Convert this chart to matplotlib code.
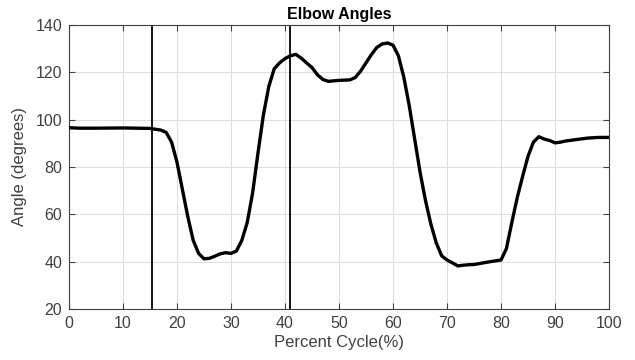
import matplotlib
matplotlib.use("Agg")
import matplotlib.pyplot as plt

percent = [0, 2, 5, 10, 15, 17, 18, 19, 20, 21, 22, 23, 24, 25, 26, 27, 28, 29, 30, 31, 32, 33, 34, 35, 36, 37, 38,
           39, 40, 41, 42, 43, 44, 45, 46, 47, 48, 50, 52, 53, 54, 55, 56, 57, 58, 59, 60, 61, 62, 63, 64, 65, 66,
           67, 68, 69, 70, 71, 72, 73, 74, 75, 76, 78, 80, 81, 82, 83, 84, 85, 86, 87, 88, 89, 90, 91, 92, 94, 96, 98, 100]
angle = [96.6, 96.4, 96.4, 96.5, 96.3, 95.6, 94.6, 90.5, 82.0, 70.5, 59.0, 49.0, 43.5, 41.2, 41.4, 42.3, 43.3, 43.8, 43.5, 44.5, 49.0, 56.5, 69.0, 86.0, 102.0, 114.0, 121.5,
         124.0, 125.8, 127.0, 127.6, 126.0, 124.0, 122.0, 119.0, 117.0, 116.2, 116.6, 116.8, 117.8, 120.5, 124.0, 127.5, 130.5, 132.0, 132.4, 131.5, 127.0, 118.0, 106.0, 92.0, 78.0, 66.0,
         56.0, 48.0, 42.5, 40.7, 39.5, 38.2, 38.5, 38.7, 38.8, 39.2, 40.0, 40.7, 45.5, 56.5, 67.0, 76.0, 84.5, 90.5, 92.8, 91.8, 91.2, 90.2, 90.5, 91.0, 91.6, 92.2, 92.5, 92.5]
markers_x = [15.3, 40.9]

plt.rcParams['font.family'] = ['Liberation Sans', 'DejaVu Sans']
fig = plt.figure(figsize=(6.35, 3.6), dpi=100)
ax = fig.add_axes([69/635, 1 - 309/360, 540/635, 284/360])

ax.plot(percent, angle, color='black', linewidth=2.4, solid_capstyle='round', solid_joinstyle='round', zorder=3)
for mx in markers_x:
    ax.plot([mx, mx], [20, 139], color='black', linewidth=1.3, zorder=2)

ax.set_xlim(0, 100)
ax.set_ylim(20, 140)
ax.set_xticks(range(0, 101, 10))
ax.set_yticks(range(20, 141, 20))
ax.grid(True, color='#dcdcdc', linewidth=0.7)
ax.set_axisbelow(True)
ax.tick_params(direction='in', top=True, right=True, length=4, width=0.8, colors='#404040',
               labelsize=11.5, labelcolor='#404040', pad=5)
for s in ax.spines.values():
    s.set_color('#404040')
    s.set_linewidth(0.8)
ax.set_title('Elbow Angles', fontsize=11.5, fontweight='bold', pad=4, color='black')
ax.set_xlabel('Percent Cycle(%)', fontsize=12, color='#404040', labelpad=3)
ax.set_ylabel('Angle (degrees)', fontsize=12, color='#404040', labelpad=6)

fig.savefig('out.png', dpi=100)
